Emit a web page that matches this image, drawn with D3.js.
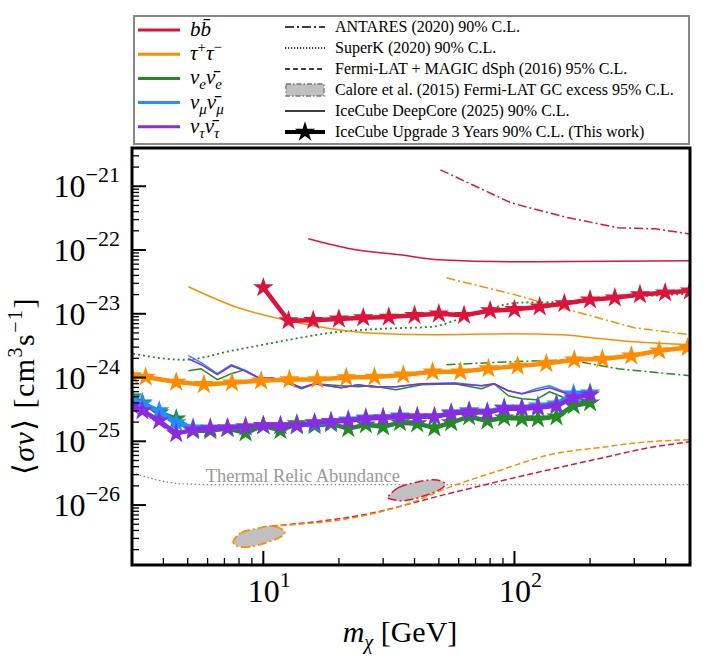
<!DOCTYPE html>
<html><head><meta charset="utf-8">
<script src="https://cdn.jsdelivr.net/npm/d3@7/dist/d3.min.js"></script>
<style>body{margin:0;background:#fff}text{font-family:"Liberation Serif","DejaVu Serif",serif}</style>
</head><body><svg id="c" width="715" height="658"></svg>
<script>
// ---------- data ----------
const nuMass = [3,3.3,3.85,4.5,5.25,6.15,7.2,8.5,10,11.7,13.6,16,18.6,21.8,25.6,30,35,41,48,56,66,78,91,107,124,147,172,200];
const nuEUpgrade = [5.0e-25,4.03e-25,2.81e-25,2.26e-25,1.47e-25,1.47e-25,1.58e-25,1.36e-25,1.76e-25,1.47e-25,1.89e-25,1.76e-25,1.89e-25,1.58e-25,1.82e-25,1.69e-25,1.96e-25,1.89e-25,1.63e-25,1.96e-25,2.43e-25,2.10e-25,2.34e-25,2.26e-25,2.26e-25,2.43e-25,3.61e-25,4.03e-25];
const nuMuUpgrade = [4.65e-25,3.88e-25,3.02e-25,1.96e-25,1.63e-25,1.63e-25,1.63e-25,1.69e-25,1.76e-25,1.76e-25,1.76e-25,1.89e-25,2.03e-25,2.18e-25,2.34e-25,2.34e-25,2.52e-25,2.43e-25,2.43e-25,2.81e-25,3.02e-25,2.91e-25,3.36e-25,3.36e-25,3.61e-25,3.88e-25,5.57e-25,5.78e-25];
const nuTauUpgrade = [3.61e-25,3.02e-25,2.10e-25,1.32e-25,1.52e-25,1.58e-25,1.63e-25,1.69e-25,1.76e-25,1.76e-25,1.76e-25,1.96e-25,2.03e-25,2.10e-25,2.26e-25,2.34e-25,2.43e-25,2.43e-25,2.43e-25,2.71e-25,2.91e-25,2.81e-25,3.25e-25,3.25e-25,3.36e-25,3.61e-25,4.82e-25,5.37e-25];
const bbMass = [10,12.6,15.8,20,25,31.6,40,50,63,80,100,126,158,200,251,316,398,500];
const bbUpgrade = [2.57e-23,7.8e-24,7.9e-24,8.3e-24,8.7e-24,8.9e-24,9.5e-24,1.0e-23,9.5e-24,1.12e-23,1.17e-23,1.29e-23,1.45e-23,1.66e-23,1.78e-23,2.0e-23,2.14e-23,2.29e-23];
const tauMass = [3.0,3.4,4.5,5.8,7.5,9.8,12.7,16.4,21.4,27.7,36.1,47.2,60.9,78.8,103,134,173,224,292,377,489];
const tauUpgrade = [1.07e-24,1.02e-24,8.5e-25,7.8e-25,8.3e-25,8.9e-25,9.3e-25,9.3e-25,1.0e-24,1.02e-24,1.1e-24,1.23e-24,1.23e-24,1.38e-24,1.51e-24,1.66e-24,1.9e-24,1.95e-24,2.19e-24,2.63e-24,2.95e-24];
const dcNuMass = [5.03,5.66,6.56,7.46,8.4,9.55,10.75,12.1,14.2,16,20.4,23.9,26.9,33.8,42.6,57.7,73.9,83,94.5,107,122,138,158,180,203];
const dcNuMu = [2.20e-24,1.71e-24,1.15e-24,1.59e-24,1.32e-24,9.93e-25,9.93e-25,8.91e-25,6.92e-25,8.0e-25,6.92e-25,7.72e-25,7.18e-25,7.18e-25,8.0e-25,8.29e-25,7.44e-25,8.0e-25,6.21e-25,5.57e-25,6.67e-25,7.44e-25,5.99e-25,4.82e-25,5.19e-25];
const dcNuTau = [1.97e-24,1.59e-24,1.11e-24,1.53e-24,1.28e-24,9.93e-25,9.93e-25,8.91e-25,6.92e-25,8.0e-25,6.92e-25,7.72e-25,7.18e-25,7.18e-25,8.0e-25,8.0e-25,7.44e-25,8.0e-25,6.21e-25,5.57e-25,6.21e-25,6.92e-25,5.78e-25,4.65e-25,4.33e-25];
const dcNuE = [1.28e-24,1.37e-24,9.24e-25,1.15e-24,1.32e-24,9.93e-25,9.57e-25,8.6e-25,6.67e-25,8.0e-25,7.44e-25,7.18e-25,7.44e-25,6.44e-25,7.72e-25,8.0e-25,6.67e-25,8.0e-25,5.19e-25,4.65e-25,4.49e-25,5.99e-25,4.82e-25,4.33e-25,3.88e-25];
const dcTauMass = [5.03,7.95,12.6,19.9,25.3,46.7,97,154,222,300,500];
const dcTau = [2.65e-23,1.24e-23,7.77e-24,5.61e-24,5.04e-24,4.69e-24,4.86e-24,4.69e-24,4.06e-24,3.64e-24,3.27e-24];
const dcBbMass = [15.1,22.4,35,50,100,500];
const dcBb = [1.5e-22,1.04e-22,8.41e-23,7.02e-23,6.53e-23,6.77e-23];
const antMass = [50.7,97,158,259,362,500];
const antBb = [1.81e-21,5.49e-22,3.31e-22,2.23e-22,2.15e-22,1.79e-22];
const antTauMass = [53.6,97,154,222,300,500];
const antTau = [3.66e-23,2.06e-23,1.24e-23,8.35e-24,6.04e-24,4.69e-24];
const antNuEMass = [53.6,97,164,259,500];
const antNuE = [1.59e-24,1.77e-24,1.90e-24,1.37e-24,1.07e-24];
const skMass = [3.03,4.85,7.46,11.5,18.6,29.5,46.7,65.6,104,164,259,500];
const skNuE = [2.36e-24,1.90e-24,2.63e-24,3.64e-24,5.04e-24,5.82e-24,6.25e-24,9.3e-24,1.49e-23,1.54e-23,1.78e-23,2.06e-23];
const thermalMass = [3,4.7,6.4,500];
const thermal = [3.22e-26,2.16e-26,2.09e-26,2.09e-26];
const dsphBbMass = [10.8,25.3,54.6,117,216,344,505];
const dsphBb = [4.69e-27,7.09e-27,1.51e-26,3.1e-26,5.33e-26,7.94e-26,9.86e-26];
const dsphTauMass = [10.8,25.3,37.8,54.6,86.6,144,216,344,505];
const dsphTau = [4.69e-27,6.85e-27,1.05e-26,1.88e-26,3.46e-26,6.4e-26,7.94e-26,9.86e-26,1.06e-25];
const gcTauMass = [7.59,8.17,9.38,10.76,12.1,11.8,10.3,8.96,8.0];
const gcTau = [2.67e-27,3.69e-27,4.26e-27,4.69e-27,3.97e-27,3.2e-27,2.58e-27,2.23e-27,2.23e-27];
const gcBbMass = [31.4,34.5,40,47.5,52.6,51.2,43.8,36.4,31.7];
const gcBb = [1.36e-26,1.88e-26,2.24e-26,2.5e-26,2.24e-26,1.81e-26,1.40e-26,1.17e-26,1.26e-26];
const yTicks = [1e-26,1e-25,1e-24,1e-23,1e-22,1e-21];
const yExp = ["−26","−25","−24","−23","−22","−21"];
const xTicks = [10,100];
const xExp = ["1","2"];

// ---------- drawing ----------
const C = {red:"#dc143c",orange:"#ff8c00",green:"#228b22",blue:"#1e90ff",purple:"#8a2be2"};
const svg = d3.select("#c");
const L=132,R=690,T=148,B=565;
const x = d3.scaleLog().domain([3,500]).range([L,R]);
const y = d3.scaleLog().domain([Math.pow(10,-26.94),Math.pow(10,-20.4)]).range([B,T]);
svg.append("clipPath").attr("id","cp").append("rect").attr("x",L).attr("y",T).attr("width",R-L).attr("height",B-T);
const g = svg.append("g").attr("clip-path","url(#cp)");
const line = d3.line().x(d=>x(d[0])).y(d=>y(d[1]));
const zip=(a,b)=>a.map((m,i)=>[m,b[i]]);
function path(ms,vs,color,w,dash,curve){
  g.append("path").attr("d",line.curve(curve||d3.curveLinear)(zip(ms,vs))).attr("fill","none")
   .attr("stroke",color).attr("stroke-width",w).attr("stroke-dasharray",dash||null).attr("stroke-linejoin","round");
}
const DD="9,3,2,3";
path(thermalMass,thermal,"#888",1.3,"1.5,2.5",d3.curveMonotoneX);
g.append("text").attr("x",x(5.9)).attr("y",y(2.09e-26)-3).attr("font-size",18.5).attr("fill","#999").text("Thermal Relic Abundance");
g.append("path").attr("d",line.curve(d3.curveCardinalClosed)(zip(gcTauMass,gcTau))).attr("fill","#c0c0c0").attr("stroke",C.orange).attr("stroke-width",1.8).attr("stroke-dasharray",DD);
g.append("path").attr("d",line.curve(d3.curveCardinalClosed)(zip(gcBbMass,gcBb))).attr("fill","#c0c0c0").attr("stroke",C.red).attr("stroke-width",1.5).attr("stroke-dasharray",DD);
path(dsphBbMass,dsphBb,C.red,1.5,"6,3",d3.curveMonotoneX);
path(dsphTauMass,dsphTau,C.orange,1.5,"6,3",d3.curveMonotoneX);
path(antMass,antBb,C.red,1.5,DD);
path(antTauMass,antTau,C.orange,1.5,DD);
path(antNuEMass,antNuE,C.green,1.5,DD);
path(skMass,skNuE,C.green,1.8,"2,3",d3.curveMonotoneX);
path(dcBbMass,dcBb,C.red,1.5,null,d3.curveMonotoneX);
path(dcTauMass,dcTau,C.orange,1.5,null,d3.curveMonotoneX);
path(dcNuMass,dcNuE,C.green,1.5);
path(dcNuMass,dcNuMu,C.blue,1.5);
path(dcNuMass,dcNuTau,C.purple,1.5);
const star = d3.symbol().type(d3.symbolStar).size(130);
function upg(ms,vs,color){
  path(ms,vs,color,4.5);
  g.append("g").selectAll("path").data(zip(ms,vs)).join("path").attr("d",star)
   .attr("transform",d=>`translate(${x(d[0])},${y(d[1])})`).attr("fill",color);
}
upg(nuMass,nuEUpgrade,C.green);
upg(nuMass,nuMuUpgrade,C.blue);
upg(nuMass,nuTauUpgrade,C.purple);
upg(tauMass,tauUpgrade,C.orange);
upg(bbMass,bbUpgrade,C.red);

const ax = svg.append("g").attr("stroke","#000");
for(let e=-27;e<=-20;e++)for(let k=1;k<10;k++){const v=k*Math.pow(10,e);const yy=y(v);if(yy<T||yy>B)continue;
  ax.append("line").attr("x1",L).attr("x2",L+(k===1?14:7)).attr("y1",yy).attr("y2",yy).attr("stroke-width",k===1?2:1.3);}
for(let e=0;e<=2;e++)for(let k=1;k<10;k++){const v=k*Math.pow(10,e);const xx=x(v);if(xx<L||xx>R)continue;
  ax.append("line").attr("y1",B).attr("y2",B-(k===1?14:7)).attr("x1",xx).attr("x2",xx).attr("stroke-width",k===1?2:1.3);}
svg.append("rect").attr("x",L).attr("y",T).attr("width",R-L).attr("height",B-T).attr("fill","none").attr("stroke","#000").attr("stroke-width",3);
yTicks.forEach((v,i)=>{const t=svg.append("text").attr("x",120).attr("y",y(v)+11).attr("text-anchor","end").attr("font-size",32);
  t.append("tspan").text("10");t.append("tspan").attr("font-size",22).attr("dy",-15).text(yExp[i]);});
xTicks.forEach((v,i)=>{const t=svg.append("text").attr("x",x(v)+6).attr("y",602).attr("text-anchor","middle").attr("font-size",32);
  t.append("tspan").text("10");t.append("tspan").attr("font-size",22).attr("dy",-15).text(xExp[i]);});
const xl=svg.append("text").attr("x",400).attr("y",642).attr("text-anchor","middle").attr("font-size",30);
xl.append("tspan").attr("font-style","italic").text("m");xl.append("tspan").attr("font-style","italic").attr("font-size",20).attr("dy",7).text("χ");
xl.append("tspan").attr("dy",-7).text(" [GeV]");
const yl=svg.append("text").attr("transform","translate(34,386) rotate(-90)").attr("text-anchor","middle").attr("font-size",30).attr("letter-spacing",1.5);
yl.append("tspan").text("⟨");yl.append("tspan").attr("font-style","italic").text("σv");yl.append("tspan").text("⟩ [cm");
yl.append("tspan").attr("font-size",20).attr("dy",-12).text("3");yl.append("tspan").attr("dy",12).text("s");
yl.append("tspan").attr("font-size",20).attr("dy",-12).text("−1");yl.append("tspan").attr("dy",12).text("]");

const lg=svg.append("g");
lg.append("rect").attr("x",134).attr("y",16).attr("width",555).attr("height",128).attr("fill","#fff").attr("stroke","#888").attr("stroke-width",2);
const left=[[C.red,[["b",1],["b̄",1]]],[C.orange,[["τ",1],["+",0,"sup"],["τ",1],["−",0,"sup"]]],
 [C.green,[["ν",1],["e",1,"sub"],["ν̄",1],["e",1,"sub"]]],[C.blue,[["ν",1],["μ",1,"sub"],["ν̄",1],["μ",1,"sub"]]],[C.purple,[["ν",1],["τ",1,"sub"],["ν̄",1],["τ",1,"sub"]]]];
left.forEach((d,i)=>{const yy=30+i*24.2;
  lg.append("line").attr("x1",138).attr("x2",180).attr("y1",yy).attr("y2",yy).attr("stroke",d[0]).attr("stroke-width",3);
  const t=lg.append("text").attr("x",190).attr("y",yy+6).attr("font-size",21);
  let cur=0;
  d[1].forEach(p=>{const sh=p[2]==="sup"?-8:p[2]==="sub"?5:0;const s=t.append("tspan").attr("dy",sh-cur).text(p[0]);cur=sh;
    if(p[1])s.attr("font-style","italic");if(p[2])s.attr("font-size",15);});
});
const right=[["ANTARES (2020) 90% C.L.",DD,1.5],["SuperK (2020) 90% C.L.","1.2,1.8",1.3],["Fermi-LAT + MAGIC dSph (2016) 95% C.L.","5,3",1.6],
 ["Calore et al. (2015) Fermi-LAT GC excess 95% C.L.","box",0],["IceCube DeepCore (2025) 90% C.L.",null,1.5],["IceCube Upgrade 3 Years 90% C.L. (This work)","star",4]];
right.forEach((d,i)=>{const yy=27+i*21;
  if(d[1]==="box"){lg.append("rect").attr("x",286).attr("y",yy-6).attr("width",38).attr("height",12).attr("fill","#c0c0c0").attr("stroke","#777").attr("stroke-width",1.3).attr("stroke-dasharray","5,2,1.5,2");}
  else{lg.append("line").attr("x1",285).attr("x2",325).attr("y1",yy).attr("y2",yy).attr("stroke","#000").attr("stroke-width",d[2]).attr("stroke-dasharray",d[1]==="star"?null:d[1]);
    if(d[1]==="star")lg.append("path").attr("d",star).attr("transform",`translate(305,${yy})`).attr("fill","#000");}
  lg.append("text").attr("x",335).attr("y",yy+5).attr("font-size",16).text(d[0]);
});
</script></body></html>
